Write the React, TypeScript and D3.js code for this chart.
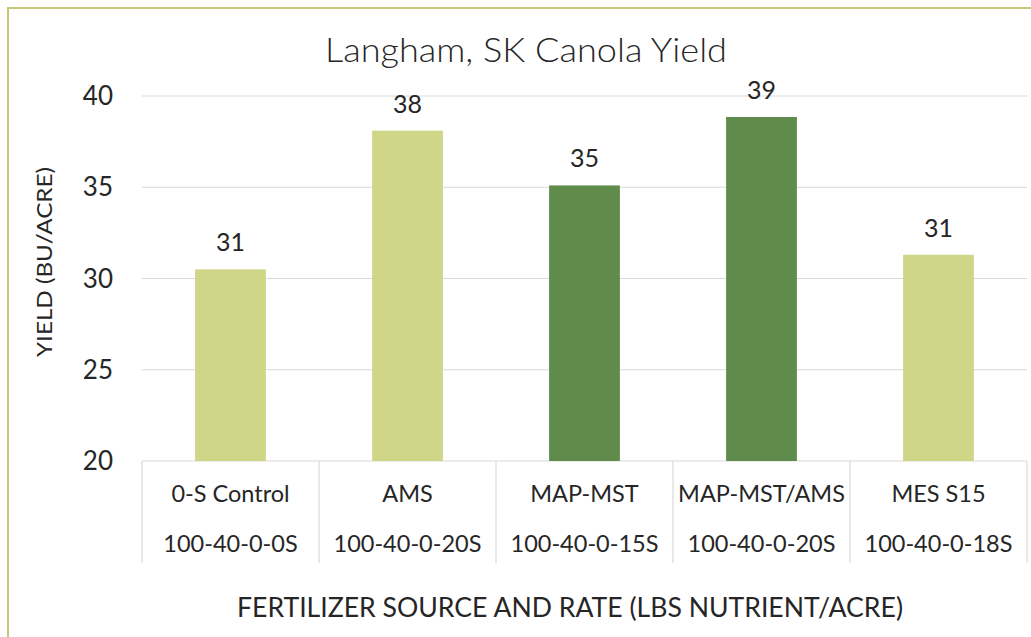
import React from "react";
import { scaleBand, scaleLinear } from "d3";

const sources = ["0-S Control", "AMS", "MAP-MST", "MAP-MST/AMS", "MES S15"];
const rates = ["100-40-0-0S", "100-40-0-20S", "100-40-0-15S", "100-40-0-20S", "100-40-0-18S"];
const yields = [30.5, 38.1, 35.1, 38.85, 31.3];
const valueLabels = ["31", "38", "35", "39", "31"];
const barShades = ["light", "light", "dark", "dark", "light"];
const yTicks = [20, 25, 30, 35, 40];

const W = 1031;
const H = 637;
const FONT = "Lato, 'Open Sans', sans-serif";
const TEXT = "#262626";
const GRID = "#d9d9d9";

export default function App() {
  const left = 142;
  const right = 1027;
  const top = 96;
  const bottom = 461;

  // scales
  const x = scaleBand<number>()
    .domain(sources.map((_, i) => i))
    .range([left, right])
    .paddingInner(0.6)
    .paddingOuter(0.3);
  const cat = scaleBand<number>()
    .domain(sources.map((_, i) => i))
    .range([left, right]);
  const y = scaleLinear().domain([20, 40]).range([bottom, top]);

  const boxBottom = 563;

  return (
    <svg
      width={W}
      height={H}
      style={{ position: "absolute", left: 0, top: 0, background: "#fff" }}
      fontFamily={FONT}
    >
      {/* chart frame */}
      <path d={`M8,${H} V8 H${W}`} fill="none" stroke="#c6c77a" strokeWidth={2} />

      <text
        x={526}
        y={62}
        textAnchor="middle"
        fontSize={33}
        fontWeight={300}
        fill={TEXT}
        textLength={402}
        lengthAdjust="spacingAndGlyphs"
      >
        Langham, SK Canola Yield
      </text>

      {/* gridlines + y ticks */}
      {yTicks.map((t) => (
        <g key={t}>
          <line x1={left} x2={right} y1={y(t)} y2={y(t)} stroke={GRID} strokeWidth={1.2} />
          <text x={113} y={y(t)} dy="0.35em" textAnchor="end" fontSize={26} fill={TEXT}>
            {t}
          </text>
        </g>
      ))}

      {/* bars */}
      {yields.map((v, i) => (
        <g key={i}>
          <rect
            x={x(i)}
            y={y(v)}
            width={x.bandwidth()}
            height={y(20) - y(v)}
            fill={barShades[i] === "dark" ? "#5f8c4b" : "#d0d688"}
          />
          <text
            x={(x(i) as number) + x.bandwidth() / 2}
            y={y(v) - 18}
            textAnchor="middle"
            fontSize={25}
            fill={TEXT}
          >
            {valueLabels[i]}
          </text>
        </g>
      ))}

      {/* category axis box */}
      {sources.map((_, i) => (
        <line
          key={"d" + i}
          x1={cat(i)}
          x2={cat(i)}
          y1={bottom}
          y2={boxBottom}
          stroke={GRID}
          strokeWidth={1.2}
        />
      ))}
      <line x1={right} x2={right} y1={bottom} y2={boxBottom} stroke={GRID} strokeWidth={1.2} />
      {sources.map((s, i) => {
        const cx = (cat(i) as number) + cat.bandwidth() / 2;
        return (
          <g key={"c" + i} fontSize={23.5} fill={TEXT} textAnchor="middle">
            <text x={cx} y={502}>{s}</text>
            <text x={cx} y={552}>{rates[i]}</text>
          </g>
        );
      })}

      {/* axis titles */}
      <text
        transform={`translate(52,262) rotate(-90)`}
        textAnchor="middle"
        fontSize={22}
        fill={TEXT}
        textLength={190}
        lengthAdjust="spacingAndGlyphs"
      >
        YIELD (BU/ACRE)
      </text>
      <text
        x={570}
        y={617}
        textAnchor="middle"
        fontSize={26}
        fill={TEXT}
        textLength={666}
        lengthAdjust="spacingAndGlyphs"
      >
        FERTILIZER SOURCE AND RATE (LBS NUTRIENT/ACRE)
      </text>
    </svg>
  );
}
